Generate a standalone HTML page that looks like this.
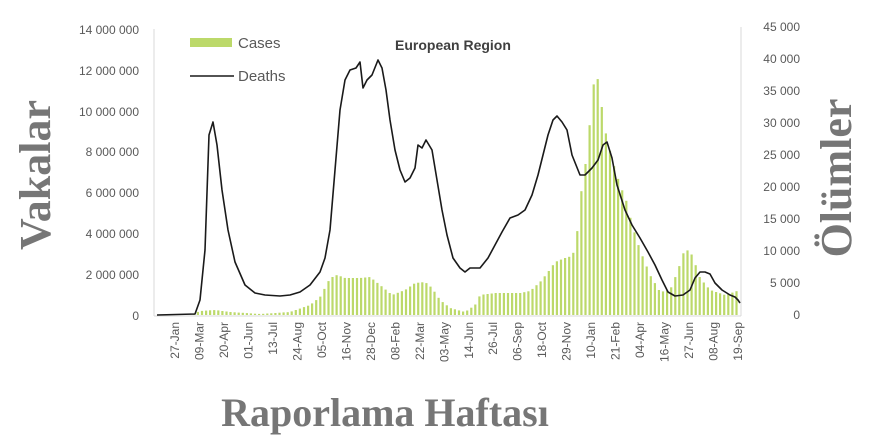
<!DOCTYPE html>
<html><head><meta charset="utf-8"><style>
body{margin:0;background:#fff;}
svg{display:block;font-family:"Liberation Sans",sans-serif;}
</style></head><body>
<svg id="s" width="875" height="444" viewBox="0 0 875 444">
<rect width="875" height="444" fill="#fff"/>
<g stroke="#d9d9d9" stroke-width="1" fill="none">
<line x1="154" y1="29" x2="154" y2="316"/>
<line x1="741" y1="27" x2="741" y2="316"/>
<line x1="154" y1="316" x2="741" y2="316"/>
</g>
<g id="bars" fill="#bcd96a"></g>
<g font-size="12" fill="#595959" text-anchor="end">
<text x="139" y="34">14 000 000</text><text x="139" y="75">12 000 000</text>
<text x="139" y="116">10 000 000</text><text x="139" y="156">8 000 000</text>
<text x="139" y="197">6 000 000</text><text x="139" y="238">4 000 000</text>
<text x="139" y="279">2 000 000</text><text x="139" y="320">0</text>
</g>
<g font-size="12" fill="#595959" text-anchor="end">
<text x="800" y="31">45 000</text><text x="800" y="63">40 000</text><text x="800" y="95">35 000</text>
<text x="800" y="127">30 000</text><text x="800" y="159">25 000</text><text x="800" y="191">20 000</text>
<text x="800" y="223">15 000</text><text x="800" y="255">10 000</text><text x="800" y="287">5 000</text>
<text x="800" y="319">0</text>
</g>
<g id="xl" font-size="12" fill="#595959"></g>
<polyline id="dl" fill="none" stroke="#1a1a1a" stroke-width="1.6" stroke-linejoin="round"/>
<rect x="190" y="38" width="42" height="9" fill="#bcd96a"/>
<text x="238" y="48" font-size="15" fill="#595959">Cases</text>
<line x1="190" y1="76" x2="234" y2="76" stroke="#1a1a1a" stroke-width="1.5"/>
<text x="238" y="81" font-size="15" fill="#595959">Deaths</text>
<text x="395" y="50" font-size="14" font-weight="bold" fill="#404040">European Region</text>
<text transform="translate(50,175) rotate(-90)" text-anchor="middle" font-family="Liberation Serif,serif" font-weight="bold" font-size="44" fill="#555" opacity="0.8">Vakalar</text>
<text transform="translate(851,178) rotate(-90)" text-anchor="middle" font-family="Liberation Serif,serif" font-weight="bold" font-size="44" fill="#555" opacity="0.8">Ölümler</text>
<text x="385" y="426" text-anchor="middle" font-family="Liberation Serif,serif" font-weight="bold" font-size="40" fill="#555" opacity="0.8">Raporlama Haftası</text>
</svg>
<script>
var D=[[157,315],[195,314],[200,300],[205,250],[209,135],[213,122],[217,145],[222,190],[228,230],[235,262],[245,285],[255,293],[265,295],[280,296],[290,295],[300,292],[310,285],[320,272],[325,258],[330,230],[335,170],[340,110],[345,80],[350,70],[356,68],[360,62],[363,88],[367,80],[372,75],[378,60],[382,68],[386,90],[390,120],[395,150],[400,170],[405,182],[410,178],[415,168],[418,145],[422,148],[426,140],[432,150],[437,180],[442,210],[447,235],[453,258],[460,268],[465,272],[470,268],[480,268],[488,258],[495,245],[502,232],[510,218],[518,215],[525,210],[532,195],[538,175],[543,155],[548,135],[553,120],[557,116],[562,122],[567,130],[572,155],[580,175],[585,175],[592,168],[598,160],[603,145],[607,142],[612,158],[617,185],[625,210],[632,225],[640,238],[648,252],[655,265],[662,280],[668,292],[675,296],[683,295],[690,290],[695,278],[700,272],[705,272],[710,274],[715,283],[722,290],[730,295],[735,297],[738,300],[740,303]];
document.getElementById('dl').setAttribute('points',D.map(p=>p.join(',')).join(' '));
var C=[[157,315],[190,315],[200,311],[215,310],[230,312],[260,314],[290,312],[310,305],[320,297],[330,278],[337,275],[345,278],[360,278],[370,277],[380,285],[392,295],[405,290],[415,283],[425,282],[432,288],[440,300],[450,308],[465,312],[475,305],[480,295],[495,293],[520,293],[530,291],[540,282],[548,272],[555,262],[565,258],[572,256],[576,245],[580,200],[586,160],[590,120],[594,80],[596,68],[600,95],[605,130],[612,160],[620,185],[626,200],[632,225],[640,250],[650,275],[660,292],[670,290],[678,270],[685,248],[692,255],[700,278],[710,290],[725,295],[740,290]];
function f(x){for(var i=1;i<C.length;i++){if(x<=C[i][0]){var a=C[i-1],b=C[i];return a[1]+(b[1]-a[1])*(x-a[0])/(b[0]-a[0]);}}return C[C.length-1][1];}
var g=document.getElementById('bars'),h='';
for(var x=157;x<=740;x+=4.08){var y=f(x);h+='<rect x="'+(x-1).toFixed(1)+'" y="'+y.toFixed(1)+'" width="2.2" height="'+(315-y).toFixed(1)+'"/>';}
g.innerHTML=h;
var L=["27-Jan","09-Mar","20-Apr","01-Jun","13-Jul","24-Aug","05-Oct","16-Nov","28-Dec","08-Feb","22-Mar","03-May","14-Jun","26-Jul","06-Sep","18-Oct","29-Nov","10-Jan","21-Feb","04-Apr","16-May","27-Jun","08-Aug","19-Sep"];
var s='';L.forEach(function(t,i){var x=175+i*24.48+4;s+='<text transform="translate('+x.toFixed(1)+',322) rotate(-90)" text-anchor="end">'+t+'</text>';});
document.getElementById('xl').innerHTML=s;
</script>
</body></html>
